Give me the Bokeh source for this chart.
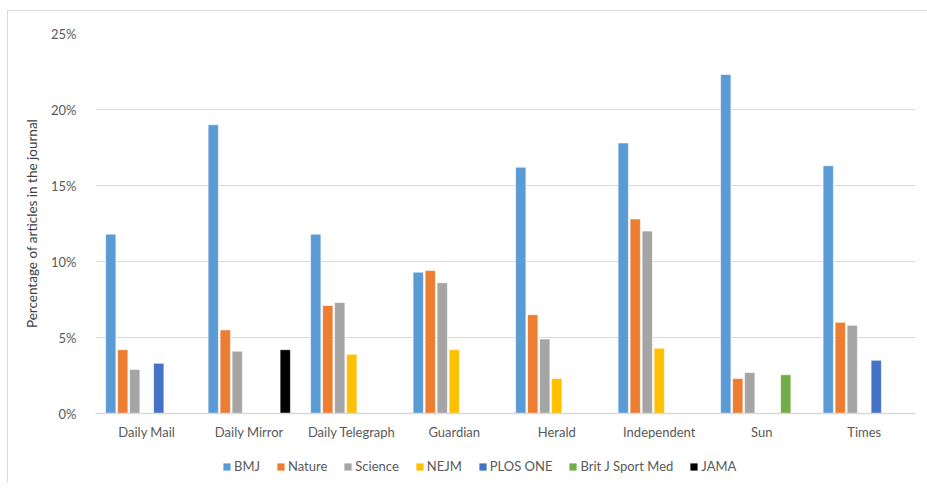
from bokeh.plotting import figure
from bokeh.layouts import column
from bokeh.models import ColumnDataSource, FactorRange, FixedTicker, PrintfTickFormatter, Legend, LegendItem
from bokeh.transform import dodge
from bokeh.embed import file_html
from bokeh.resources import INLINE

newspapers = ["Daily Mail", "Daily Mirror", "Daily Telegraph", "Guardian", "Herald", "Independent", "Sun", "Times"]
journals = ["BMJ", "Nature", "Science", "NEJM", "PLOS ONE", "Brit J Sport Med", "JAMA"]
colors = ["#5B9BD5", "#ED7D31", "#A5A5A5", "#FFC000", "#4472C4", "#70AD47", "#000000"]

bmj = [11.8, 19.0, 11.8, 9.3, 16.2, 17.8, 22.3, 16.3]
nature = [4.2, 5.5, 7.1, 9.4, 6.5, 12.8, 2.3, 6.0]
science = [2.9, 4.1, 7.3, 8.6, 4.9, 12.0, 2.7, 5.8]
nejm = [0, 0, 3.9, 4.2, 2.3, 4.3, 0, 0]
plos_one = [3.3, 0, 0, 0, 0, 0, 0, 3.5]
brit_j_sport_med = [0, 0, 0, 0, 0, 0, 2.55, 0]
jama = [0, 4.2, 0, 0, 0, 0, 0, 0]

y_ticks = [0, 5, 10, 15, 20, 25]

series = [bmj, nature, science, nejm, plos_one, brit_j_sport_med, jama]

FONT = "Lato"
TXT = "#595959"

p = figure(x_range=FactorRange(*newspapers, range_padding=0), y_range=(0, 25),
           width=919, height=444, output_backend="svg", toolbar_location=None,
           min_border_left=87, min_border_right=12, min_border_top=22, min_border_bottom=42)

pitch = 12.0 / 102.5
for i, (name, vals, col) in enumerate(zip(journals, series, colors)):
    xs = [n for n, v in zip(newspapers, vals) if v > 0]
    ys = [v for v in vals if v > 0]
    src = ColumnDataSource(dict(x=xs, y=ys))
    p.vbar(x=dodge("x", (i - 3) * pitch, range=p.x_range), top="y", width=pitch * 0.86,
           source=src, fill_color=col, line_color="white", line_width=0.6)

p.outline_line_color = None
p.xgrid.grid_line_color = None
p.ygrid.grid_line_color = "#d9d9d9"
p.ygrid.grid_line_width = 1
p.yaxis.ticker = FixedTicker(ticks=y_ticks)
p.yaxis.formatter = PrintfTickFormatter(format="%d%%")
p.yaxis.axis_line_color = None
p.yaxis.major_tick_line_color = None
p.yaxis.minor_tick_line_color = None
p.yaxis.major_label_standoff = 13
p.yaxis.axis_label = "Percentage of articles in the journal"
p.yaxis.axis_label_text_font = FONT
p.yaxis.axis_label_text_font_style = "normal"
p.yaxis.axis_label_text_font_size = "13.5px"
p.yaxis.axis_label_text_color = "#404040"
p.yaxis.axis_label_standoff = 8

p.xaxis.axis_line_color = "#d9d9d9"
p.xaxis.axis_line_width = 1.5
p.xaxis.major_tick_line_color = None
p.xaxis.minor_tick_line_color = None
p.xaxis.major_tick_in = 0
p.xaxis.major_tick_out = 0
p.xaxis.major_label_standoff = 10

for ax in (p.xaxis[0], p.yaxis[0]):
    ax.major_label_text_font = FONT
    ax.major_label_text_font_size = "13px"
    ax.major_label_text_color = TXT

# legend strip below the chart (legend swatches use an off-range proxy glyph)
p2 = figure(width=919, height=28, x_range=(0, 1), y_range=(0, 1), output_backend="svg",
            toolbar_location=None, min_border=0)
p2.axis.visible = False
p2.grid.grid_line_color = None
p2.outline_line_color = None
items = []
for name, col in zip(journals, colors):
    r = p2.vbar(x=[-5.0], top=[-5.0], bottom=[-6.0], width=0.1, fill_color=col, line_color=None)
    items.append(LegendItem(label=name, renderers=[r]))
legend = Legend(items=items, orientation="horizontal", location=(127, 9),
                glyph_width=9, glyph_height=9, label_standoff=3, spacing=16,
                label_text_font=FONT, label_text_font_size="13px", label_text_color=TXT,
                border_line_color=None, background_fill_alpha=0, padding=0, margin=0,
                label_height=12)
p2.add_layout(legend, "center")

layout = column(p, p2, spacing=0)
layout.styles = {"margin-left": "7px", "margin-top": "10px",
                 "border-left": "1px solid #d9d9d9", "border-top": "1px solid #d9d9d9"}

open("out.html", "w").write(file_html(layout, INLINE))
